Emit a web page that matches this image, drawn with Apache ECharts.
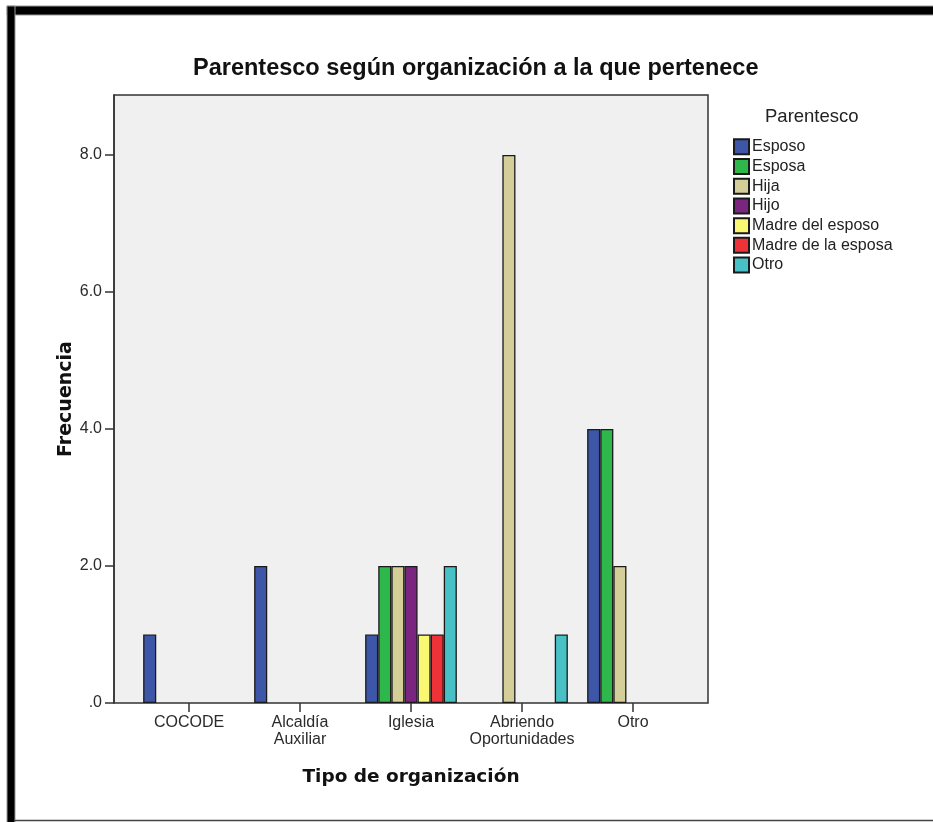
<!DOCTYPE html>
<html>
<head>
<meta charset="utf-8">
<title>Parentesco según organización</title>
<script src="https://cdn.jsdelivr.net/npm/echarts@6/dist/echarts.min.js"></script>
<style>
  html, body { margin: 0; padding: 0; background: #fff; }
  #chart { width: 933px; height: 822px; }
</style>
</head>
<body>
<div id="chart"></div>
<script>
// categorías del eje x
var categorias = ['COCODE', 'Alcaldía\nAuxiliar', 'Iglesia', 'Abriendo\nOportunidades', 'Otro']
// frecuencias por parentesco (null = sin barra)
var esposo = [1, 2, 1, null, 4]
var esposa = [null, null, 2, null, 4]
var hija = [null, null, 2, 8, 2]
var hijo = [null, null, 2, null, null]
var madreEsposo = [null, null, 1, null, null]
var madreEsposa = [null, null, 1, null, null]
var otro = [null, null, 2, 1, null]
var nombres = ['Esposo', 'Esposa', 'Hija', 'Hijo', 'Madre del esposo', 'Madre de la esposa', 'Otro']
var colores = ['#3D56A8', '#2EB74B', '#D4CF98', '#7A2680', '#FAF772', '#EE3338', '#47C1C6']
var yTicks = [0, 2, 4, 6, 8]
var yTickLabels = ['.0', '2.0', '4.0', '6.0', '8.0']
var yMax = 8.876

var valores = [esposo, esposa, hija, hijo, madreEsposo, madreEsposa, otro]
var chart = echarts.init(document.getElementById('chart'))

var series = nombres.map(function (n, i) {
  return {
    name: n,
    type: 'bar',
    xAxisIndex: 1,
    yAxisIndex: 1,
    data: valores[i],
    barWidth: 13.1,
    barGap: '0%',
    itemStyle: { color: colores[i], borderColor: '#1a1a1a', borderWidth: 1.3 }
  }
})

chart.setOption({
  animation: false,
  textStyle: { fontFamily: 'Liberation Sans, Arial, sans-serif' },
  title: [
    {
      text: 'Parentesco según organización a la que pertenece',
      left: 193,
      top: 55,
      padding: 0,
      textStyle: { fontSize: 23.5, fontWeight: 'bold', color: '#111', lineHeight: 28 }
    },
    {
      text: 'Parentesco',
      left: 765,
      top: 106,
      padding: 0,
      textStyle: { fontSize: 18.5, fontWeight: 'normal', color: '#222', lineHeight: 22 }
    }
  ],
  legend: {
    orient: 'vertical',
    left: 733,
    top: 137,
    padding: 0,
    itemWidth: 15,
    itemHeight: 15,
    itemGap: 0,
    icon: 'rect',
    data: nombres,
    textStyle: { fontSize: 16, color: '#222', lineHeight: 19.7, padding: [0, 0, 0, -2] }
  },
  grid: [
    {
      left: 114, right: 225, top: 95, bottom: 119,
      show: true,
      backgroundColor: '#F0F0F0',
      borderColor: '#333',
      borderWidth: 1.5
    },
    { left: 133.5, right: 244.5, top: 95, bottom: 119 }
  ],
  xAxis: [
    { type: 'value', gridIndex: 0, show: false },
    {
      type: 'category',
      gridIndex: 1,
      data: categorias,
      axisLine: { show: false },
      axisTick: { show: true, alignWithLabel: true, length: 9, lineStyle: { color: '#333', width: 1.5 } },
      axisLabel: { fontSize: 16, color: '#2a2a2a', margin: 11, lineHeight: 17, interval: 0 },
      name: 'Tipo de organización',
      nameLocation: 'middle',
      nameGap: 65,
      nameMoveOverlap: false,
      nameTextStyle: { fontFamily: 'DejaVu Sans', fontWeight: 'bold', fontSize: 18.5, color: '#111' }
    }
  ],
  yAxis: [
    {
      type: 'value',
      gridIndex: 0,
      min: 0,
      max: yMax,
      splitLine: { show: false },
      axisLine: { show: true, lineStyle: { color: '#333', width: 1.5 } },
      axisTick: { show: true, length: 9, customValues: yTicks, lineStyle: { color: '#333', width: 1.5 } },
      axisLabel: {
        fontSize: 16,
        color: '#2a2a2a',
        margin: 12,
        customValues: yTicks,
        formatter: function (v) { return yTickLabels[yTicks.indexOf(v)] }
      },
      name: 'Frecuencia',
      nameLocation: 'middle',
      nameGap: 38,
      nameMoveOverlap: false,
      nameTextStyle: { fontFamily: 'DejaVu Sans', fontWeight: 'bold', fontSize: 19, color: '#111' }
    },
    { type: 'value', gridIndex: 1, min: 0, max: yMax, show: false }
  ],
  graphic: [
    { type: 'rect', shape: { x: 7, y: 6, width: 940, height: 9 }, style: { fill: '#000', stroke: '#999', lineWidth: 1 }, z: 100 },
    { type: 'rect', shape: { x: 7, y: 6, width: 8, height: 830 }, style: { fill: '#000', stroke: '#999', lineWidth: 1 }, z: 100 },
    { type: 'line', shape: { x1: 15, y1: 820.5, x2: 933, y2: 820.5 }, style: { stroke: '#444', lineWidth: 1.5 }, z: 100 }
  ],
  series: series
})
</script>
</body>
</html>
